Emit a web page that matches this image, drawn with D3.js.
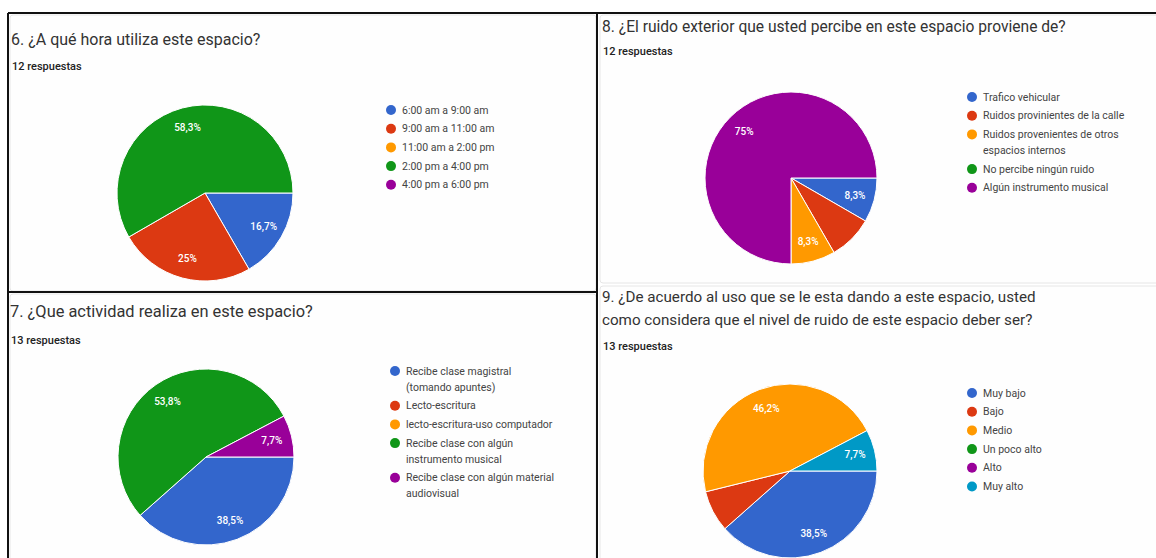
<!DOCTYPE html>
<html>
<head>
<meta charset="utf-8">
<script src="https://cdn.jsdelivr.net/npm/d3@7"></script>
<style>
  html, body { margin: 0; padding: 0; background: #fff; }
  svg { display: block; }
  text { font-family: Roboto, "Noto Sans", Arial, sans-serif; }
</style>
</head>
<body>
<svg id="chart" width="1156" height="558"></svg>
<script>
// ---------- DATA ----------
const colors = ["#3366cc", "#dc3912", "#ff9900", "#109618", "#990099", "#0099c6"];

const q6Title = ["6. ¿A qué hora utiliza este espacio?"];
const q6Responses = "12 respuestas";
const q6Categories = [["6:00 am a 9:00 am"], ["9:00 am a 11:00 am"], ["11:00 am a 2:00 pm"], ["2:00 pm a 4:00 pm"], ["4:00 pm a 6:00 pm"]];
const q6Values = [2, 3, 0, 7, 0];

const q7Title = ["7. ¿Que actividad realiza en este espacio?"];
const q7Responses = "13 respuestas";
const q7Categories = [["Recibe clase magistral", "(tomando apuntes)"], ["Lecto-escritura"], ["lecto-escritura-uso computador"], ["Recibe clase con algún", "instrumento musical"], ["Recibe clase con algún material", "audiovisual"]];
const q7Values = [5, 0, 0, 7, 1];

const q8Title = ["8. ¿El ruido exterior que usted percibe en este espacio proviene de?"];
const q8Responses = "12 respuestas";
const q8Categories = [["Trafico vehicular"], ["Ruidos provinientes de la calle"], ["Ruidos provenientes de otros", "espacios internos"], ["No percibe ningún ruido"], ["Algún instrumento musical"]];
const q8Values = [1, 1, 1, 0, 9];
const q8HiddenLabels = [1];

const q9Title = ["9. ¿De acuerdo al uso que se le esta dando a este espacio, usted", "como considera que el nivel de ruido de este espacio deber ser?"];
const q9Responses = "13 respuestas";
const q9Categories = [["Muy bajo"], ["Bajo"], ["Medio"], ["Un poco alto"], ["Alto"], ["Muy alto"]];
const q9Values = [5, 1, 6, 0, 0, 1];
const q9HiddenLabels = [1];

// ---------- LAYOUT ----------
const svg = d3.select("#chart");
svg.append("rect").attr("width", 1156).attr("height", 558).attr("fill", "#fff");

// card backgrounds (google forms cards)
const cards = [
  {x: 10, y: 15, w: 586, h: 276},
  {x: 10, y: 294, w: 586, h: 270},
  {x: 600, y: 15, w: 560, h: 268},
  {x: 600, y: 286, w: 560, h: 280}
];
svg.selectAll("rect.card").data(cards).join("rect")
  .attr("class", "card")
  .attr("x", d => d.x).attr("y", d => d.y)
  .attr("width", d => d.w).attr("height", d => d.h)
  .attr("rx", 3)
  .attr("fill", "#fefefe").attr("stroke", "#e6e6e6").attr("stroke-width", 1);

const panels = [
  {title: q6Title, resp: q6Responses, cats: q6Categories, vals: q6Values, hidden: [], fs: 16,
   tx: 11, ty: 45, ry: 70, cx: 205, cy: 193, r: 88, lx: 391, ly: 110},
  {title: q7Title, resp: q7Responses, cats: q7Categories, vals: q7Values, hidden: [], fs: 16.4,
   tx: 10, ty: 317, ry: 344, cx: 206, cy: 457, r: 88, lx: 395, ly: 371},
  {title: q8Title, resp: q8Responses, cats: q8Categories, vals: q8Values, hidden: q8HiddenLabels, fs: 15.6,
   tx: 602, ty: 32, ry: 55, cx: 791, cy: 178, r: 86, lx: 972, ly: 97},
  {title: q9Title, resp: q9Responses, cats: q9Categories, vals: q9Values, hidden: q9HiddenLabels, fs: 15.2,
   tx: 602, ty: 302, ry: 350, cx: 790, cy: 471, r: 87, lx: 972, ly: 393}
];

const fmtPct = v => {
  let s = d3.format(".1f")(v * 100);
  if (s.endsWith(".0")) s = s.slice(0, -2);
  return s.replace(".", ",") + "%";
};

panels.forEach(p => {
  const g = svg.append("g");
  // title
  g.selectAll("text.title").data(p.title).join("text")
    .attr("x", p.tx).attr("y", (d, i) => p.ty + i * 23)
    .attr("font-size", p.fs).attr("fill", "#333")
    .text(d => d);
  g.append("text").attr("x", p.tx + 1).attr("y", p.ry)
    .attr("font-size", 11).attr("font-weight", 500).attr("fill", "#222")
    .text(p.resp);

  // pie
  const total = d3.sum(p.vals);
  const data = p.vals.map((v, i) => ({v, i}));
  const pie = d3.pie().sort(null).value(d => d.v)
    .startAngle(Math.PI / 2).endAngle(Math.PI / 2 + 2 * Math.PI);
  const arcs = pie(data).filter(a => a.data.v > 0);
  const arc = d3.arc().innerRadius(0).outerRadius(p.r);
  const labelArc = d3.arc().innerRadius(p.r * 0.77).outerRadius(p.r * 0.77);
  const pg = g.append("g").attr("transform", `translate(${p.cx},${p.cy})`);
  pg.selectAll("path").data(arcs).join("path")
    .attr("d", arc)
    .attr("fill", d => colors[d.data.i])
    .attr("stroke", "#fff").attr("stroke-width", 1);
  pg.selectAll("text").data(arcs.filter(a => !p.hidden.includes(a.data.i))).join("text")
    .attr("transform", d => `translate(${labelArc.centroid(d)})`)
    .attr("text-anchor", "middle").attr("dy", "0.35em")
    .attr("font-size", 10).attr("font-weight", 500).attr("fill", "#fff")
    .text(d => fmtPct(d.data.v / total));

  // legend
  let y = p.ly;
  p.cats.forEach((lines, i) => {
    const lg = g.append("g");
    lg.append("circle").attr("cx", p.lx).attr("cy", y).attr("r", 5)
      .attr("fill", colors[i]);
    lg.selectAll("text").data(lines).join("text")
      .attr("x", p.lx + 11).attr("y", (d, k) => y + k * 16)
      .attr("dy", "0.35em")
      .attr("font-size", 10.5).attr("fill", "#444")
      .text(d => d);
    y += 18.7 + (lines.length - 1) * 16;
  });
});

// black frame lines of the collage
const frame = [
  [8, 13, 1156, 13],
  [8, 13, 8, 558],
  [597, 13, 597, 558],
  [8, 292, 597, 292]
];
svg.selectAll("line.frame").data(frame).join("line")
  .attr("class", "frame")
  .attr("x1", d => d[0]).attr("y1", d => d[1])
  .attr("x2", d => d[2]).attr("y2", d => d[3])
  .attr("stroke", "#111").attr("stroke-width", 2);
</script>
</body>
</html>
